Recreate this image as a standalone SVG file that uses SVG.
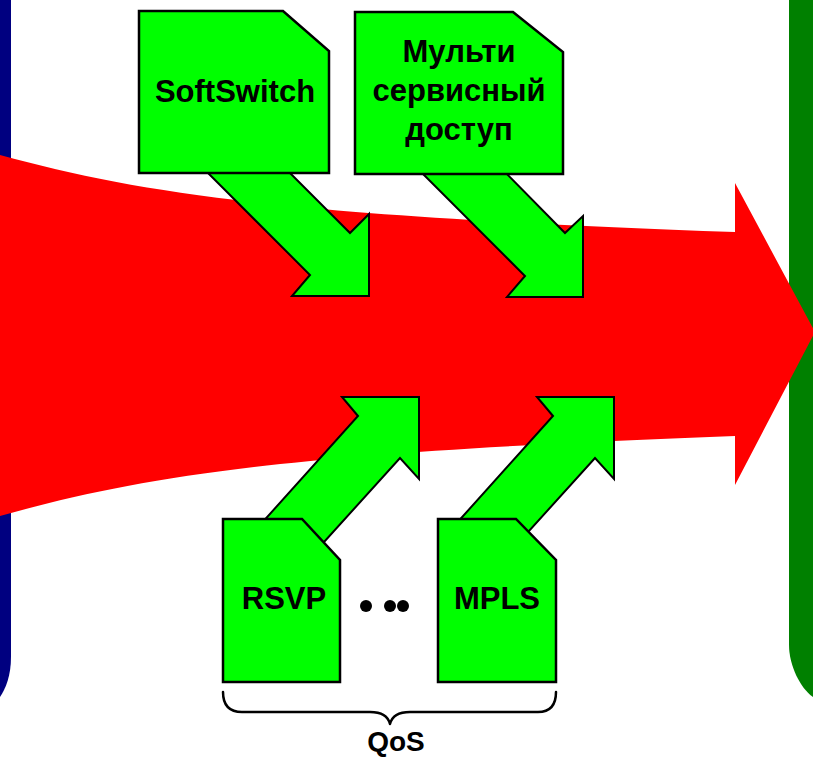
<svg xmlns="http://www.w3.org/2000/svg" width="813" height="758" viewBox="0 0 813 758">
  <style>
    .doc { fill: #00ff00; stroke: #000; stroke-width: 2.5; stroke-linejoin: miter; }
    .arrow { fill: #00ff00; stroke: #000; stroke-width: 2; stroke-linejoin: miter; }
    .label { font-family: "Liberation Sans", Arial, sans-serif; font-weight: bold; font-size: 31px; fill: #000; text-anchor: middle; }
    .brace { fill: none; stroke: #000; stroke-width: 2.5; stroke-linecap: round; stroke-linejoin: round; }
  </style>

  <rect width="813" height="758" fill="#fff"/>

  <!-- side bars -->
  <g id="left-bar">
    <path d="M0,0 H11 V657 C11,675 6,688 0,697 Z" fill="#000080"/>
  </g>
  <g id="right-bar">
    <path d="M789,0 H813 V697 C800,688 789,665 789,645 Z" fill="#008000"/>
  </g>

  <!-- main flow arrow -->
  <g id="flow">
    <path d="M0,155 C150,196 300,216 735,232 L735,183 L815,332 L735,485 L735,436 C300,452 150,474 0,516 Z" fill="#ff0000"/>
  </g>

  <!-- connectors -->
  <g id="connectors">
    <path class="arrow" d="M200,165 L282,165 L350,233 L369,214 L369,296 L292,296 L310,275 Z"/>
    <path class="arrow" d="M416,167 L500,167 L565,233 L583,216 L583,297 L507,297 L525,276 Z"/>
    <path class="arrow" d="M358,416 L342,397 L419,397 L419,479 L400,458 L315,552 L260,525 Z"/>
    <path class="arrow" d="M553,416 L537,397 L614,397 L614,479 L595,458 L510,552 L455,525 Z"/>
  </g>

  <!-- nodes -->
  <g id="softswitch">
    <path class="doc" d="M139,11 H283 L329,51 V173 H139 Z"/>
    <text class="label" x="235" y="102">SoftSwitch</text>
  </g>

  <g id="multiservice-access">
    <path class="doc" d="M355,12 H513 L563,52 V174 H355 Z"/>
    <text class="label" x="459" y="62">Мульти</text>
    <text class="label" x="459" y="101">сервисный</text>
    <text class="label" x="459" y="140">доступ</text>
  </g>

  <g id="rsvp">
    <path class="doc" d="M223,519 H302 L340,560 V682 H223 Z"/>
    <text class="label" x="284" y="609">RSVP</text>
  </g>

  <g id="ellipsis">
    <circle cx="366" cy="606" r="6" fill="#000"/>
    <circle cx="390" cy="606" r="6" fill="#000"/>
    <circle cx="403" cy="606" r="6" fill="#000"/>
  </g>

  <g id="mpls">
    <path class="doc" d="M438,519 H516 L556,560 V682 H438 Z"/>
    <text class="label" x="497" y="609">MPLS</text>
  </g>

  <g id="qos">
    <path class="brace" d="M223,692 C223,704 228,712 242,712 H370 C382,712 388,716 390,724 C392,716 398,712 410,712 H538 C551,712 556,704 556,692"/>
    <text class="label" x="396" y="751" style="font-size:28px">QoS</text>
  </g>
</svg>
